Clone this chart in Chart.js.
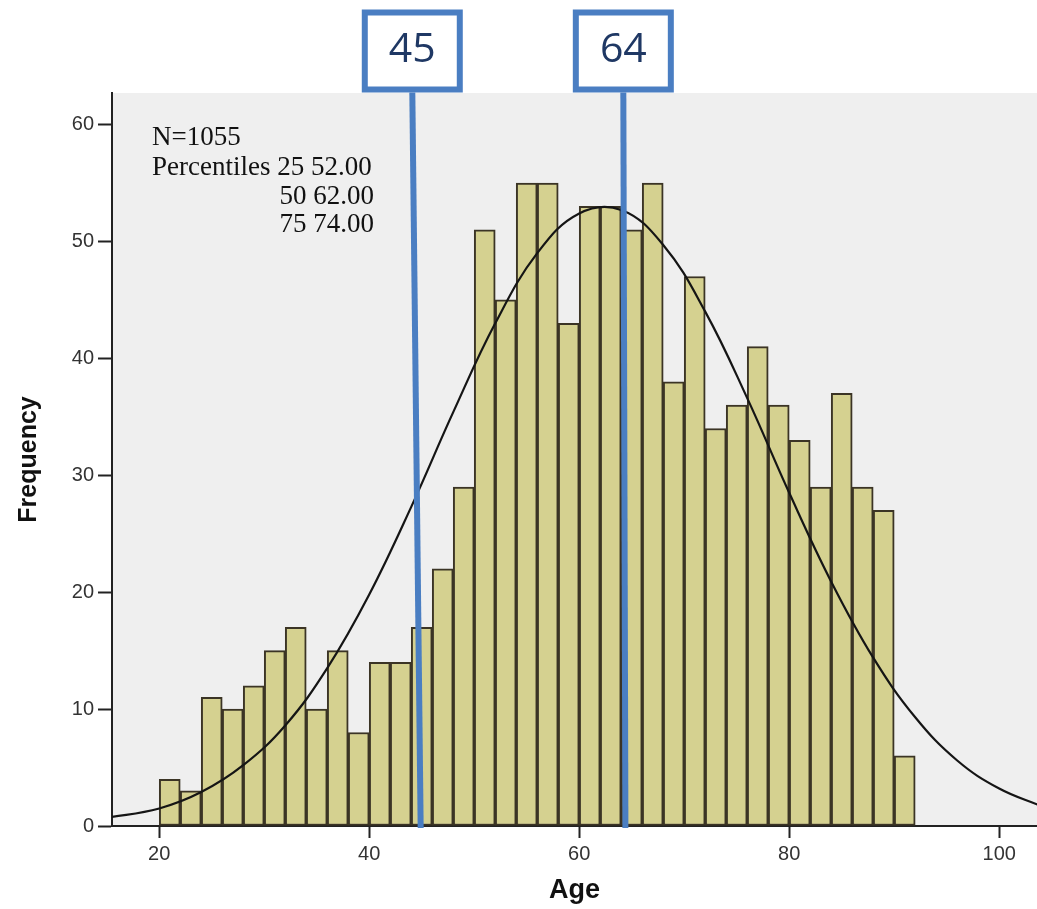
<!DOCTYPE html>
<html>
<head>
<meta charset="utf-8">
<script src="https://cdn.jsdelivr.net/npm/chart.js@4.4.1/dist/chart.umd.min.js"></script>
<style>
  html, body { margin: 0; padding: 0; background: #fff; }
  #wrap { width: 1037px; height: 909px; }
</style>
</head>
<body>
<div id="wrap"><canvas id="mychart" width="1037" height="909"></canvas></div>
<script>
// histogram bins (centre of each 2-year bin) and counts
var ageBins = [21, 23, 25, 27, 29, 31, 33, 35, 37, 39, 41, 43, 45, 47, 49, 51, 53, 55,
               57, 59, 61, 63, 65, 67, 69, 71, 73, 75, 77, 79, 81, 83, 85, 87, 89, 91];
var frequency = [4, 3, 11, 10, 12, 15, 17, 10, 15, 8, 14, 14, 17, 22, 29, 51, 45, 55,
                 55, 43, 53, 53, 51, 55, 38, 47, 34, 36, 41, 36, 33, 29, 37, 29, 27, 6];

// normal curve
var curveX = [15, 20, 24, 28, 32, 36, 40, 44, 48, 52, 56, 60, 64, 68, 72, 76, 80, 84, 88, 92, 96, 100, 104];
var curveY = [0.7, 1.5, 2.9, 5.2, 8.6, 13.5, 19.8, 27.3, 35.4, 43, 49, 52.4, 52.7, 49.7, 44, 36.6, 28.5, 20.9, 14.4, 9.3, 5.6, 3.2, 1.7];

var xTicks = [20, 40, 60, 80, 100];
var yTicks = [0, 10, 20, 30, 40, 50, 60];

// hand drawn markers (value at top of line, value at bottom of line)
var markerLabels = ['45', '64'];
var markerTop = [44.1, 64.2];
var markerBottom = [44.9, 64.4];

var statsText = ['N=1055', 'Percentiles 25 52.00', '50 62.00', '75 74.00'];

var bgPlugin = {
    id: 'bg',
    beforeDraw: function (chart) {
        var c = chart.ctx, a = chart.chartArea;
        c.save();
        c.fillStyle = '#ffffff';
        c.fillRect(0, 0, chart.width, chart.height);
        c.fillStyle = '#efefef';
        c.fillRect(a.left, a.top, a.right - a.left, a.bottom - a.top);
        c.restore();
    }
};

var notePlugin = {
    id: 'notes',
    afterDraw: function (chart) {
        var c = chart.ctx, a = chart.chartArea, xs = chart.scales.x;
        c.save();
        // stats text
        c.fillStyle = '#111';
        c.font = '27px "Liberation Serif", "Times New Roman", serif';
        c.textBaseline = 'alphabetic';
        c.textAlign = 'left';
        c.fillText(statsText[0], a.left + 40, 145);
        c.fillText(statsText[1], a.left + 40, 175);
        c.textAlign = 'right';
        c.fillText(statsText[2], a.left + 262, 204);
        c.fillText(statsText[3], a.left + 262, 232);

        // blue marker lines + boxes
        var blue = '#4a7ec2';
        for (var i = 0; i < markerLabels.length; i++) {
            var xt = xs.getPixelForValue(markerTop[i]);
            var xb = xs.getPixelForValue(markerBottom[i]);
            c.strokeStyle = blue;
            c.lineWidth = 6;
            c.beginPath();
            c.moveTo(xt, 90);
            c.lineTo(xb, a.bottom + 2);
            c.stroke();

            var bw = 101, bh = 83;
            c.fillStyle = '#ffffff';
            c.fillRect(xt - bw / 2, 9.5, bw, bh);
            c.lineWidth = 6;
            c.strokeRect(xt - bw / 2 + 3, 12.5, bw - 6, bh - 6);
            c.fillStyle = '#1f3864';
            c.font = '41px "Open Sans", "Noto Sans", sans-serif';
            c.textAlign = 'center';
            c.textBaseline = 'middle';
            c.fillText(markerLabels[i], xt, 50);
        }
        c.restore();
    }
};

var ctx = document.getElementById('mychart').getContext('2d');
var points = ageBins.map(function (b, i) { return { x: b, y: frequency[i] }; });
var curve = curveX.map(function (v, i) { return { x: v, y: curveY[i] }; });

var myChart = new Chart(ctx, {
    type: 'bar',
    data: {
        datasets: [{
            type: 'line',
            label: 'Normal',
            data: curve,
            borderColor: '#151515',
            borderWidth: 2.2,
            pointRadius: 0,
            tension: 0.4,
            fill: false,
            order: 0
        }, {
            label: 'Frequency',
            data: points,
            backgroundColor: '#d5d190',
            borderColor: '#3b3425',
            borderWidth: 2,
            borderSkipped: false,
            barPercentage: 1,
            categoryPercentage: 1,
            order: 1
        }]
    },
    options: {
        responsive: false,
        devicePixelRatio: 1,
        animation: false,
        layout: { padding: { top: 93, right: 0, left: 0, bottom: 0 } },
        plugins: {
            legend: { display: false },
            tooltip: { enabled: false }
        },
        scales: {
            x: {
                type: 'linear',
                offset: false,
                min: 15.5,
                max: 103.6,
                afterFit: function (s) { s.height = 83; },
                afterBuildTicks: function (s) {
                    s.ticks = xTicks.map(function (v) { return { value: v }; });
                },
                grid: { offset: false, drawOnChartArea: false, drawTicks: true, tickLength: 12, tickColor: '#222', tickWidth: 2 },
                border: { display: true, color: '#222', width: 2 },
                ticks: {
                    color: '#333',
                    padding: 4,
                    maxRotation: 0,
                    font: { family: '"Liberation Sans", Arial, sans-serif', size: 20 }
                },
                title: {
                    display: true,
                    text: 'Age',
                    color: '#111',
                    padding: { top: 0, bottom: 5 },
                    font: { family: '"Liberation Sans", Arial, sans-serif', size: 27, weight: 'bold', lineHeight: 1 }
                }
            },
            y: {
                min: 0,
                max: 62.7,
                afterFit: function (s) { s.width = 112; },
                afterBuildTicks: function (s) {
                    s.ticks = yTicks.map(function (v) { return { value: v }; });
                },
                grid: { drawOnChartArea: false, drawTicks: true, tickLength: 14, tickColor: '#222', tickWidth: 2 },
                border: { display: true, color: '#222', width: 2 },
                ticks: {
                    color: '#333',
                    padding: 4,
                    font: { family: '"Liberation Sans", Arial, sans-serif', size: 20 }
                },
                title: {
                    display: true,
                    text: 'Frequency',
                    color: '#111',
                    padding: { top: 17, bottom: 0 },
                    font: { family: '"Liberation Sans", Arial, sans-serif', size: 25, weight: 'bold', lineHeight: 1 }
                }
            }
        }
    },
    plugins: [bgPlugin, notePlugin]
});
</script>
</body>
</html>
